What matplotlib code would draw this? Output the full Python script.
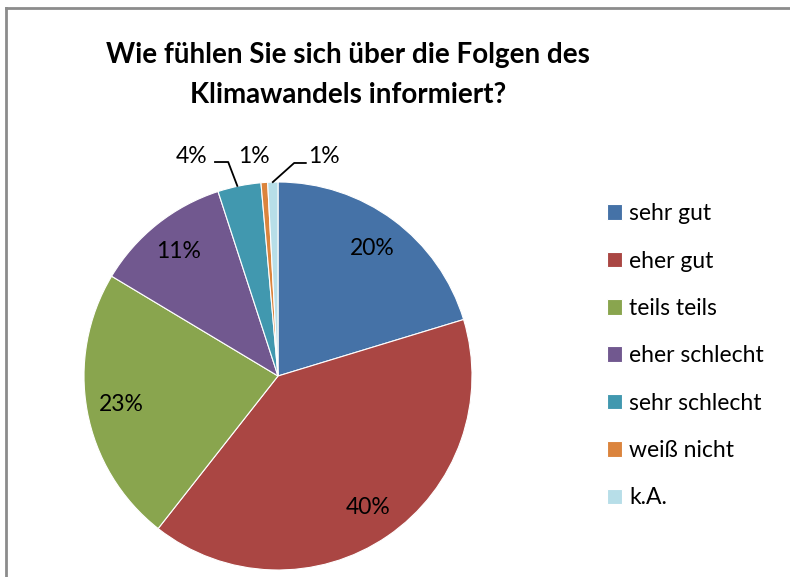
import numpy as np
import matplotlib
matplotlib.use("Agg")
import matplotlib.pyplot as plt
from matplotlib.lines import Line2D

# Data
categories = ["sehr gut", "eher gut", "teils teils", "eher schlecht",
              "sehr schlecht", "weiß nicht", "k.A."]
shares = [20.3, 40.3, 23.0, 11.4, 3.6, 0.55, 0.85]
pct_labels = ["20%", "40%", "23%", "11%", "4%", "1%", "1%"]
colors = ["#4572A7", "#AA4643", "#89A54E", "#71588F", "#4198AF", "#DB843D", "#B7DEE8"]

title = "Wie fühlen Sie sich über die Folgen des\nKlimawandels informiert?"

plt.rcParams['font.family'] = ['Lato', 'DejaVu Sans']

W, H = 790, 577
fig = plt.figure(figsize=(W / 100, H / 100), dpi=100)

# pie axes: centre (278, 376) px, radius 194 px
cx, cy, r = 278, 376, 194
k = 1.3
ax = fig.add_axes([(cx - r * k) / W, (H - cy - r * k) / H, 2 * r * k / W, 2 * r * k / H])

wedges, _ = ax.pie(shares, colors=colors, startangle=90, counterclock=False,
                   wedgeprops=dict(edgecolor="white", linewidth=0.8))
ax.set_xlim(-k, k)
ax.set_ylim(-k, k)
ax.set_aspect("equal")
ax.axis("off")

fs = 16.5

# labels inside the big slices
for w, lab in zip(wedges[:4], pct_labels[:4]):
    ang = np.deg2rad((w.theta1 + w.theta2) / 2)
    ax.text(0.82 * np.cos(ang), 0.82 * np.sin(ang), lab, ha="center", va="center",
            fontsize=fs, color="black")

# small slices: labels above with leader lines
def edge(w, rr=1.0):
    ang = np.deg2rad((w.theta1 + w.theta2) / 2)
    return rr * np.cos(ang), rr * np.sin(ang)

ly = 1.13
# sehr schlecht
x0, y0 = edge(wedges[4])
ax.plot([x0 - 0.01, x0 - 0.057, x0 - 0.125], [y0, 1.103, 1.103], color="black", lw=1.3,
        clip_on=False)
ax.text(x0 - 0.245, ly, pct_labels[4], ha="center", va="center", fontsize=fs)
# weiß nicht
x0, y0 = edge(wedges[5])
ax.text(x0 - 0.055, ly, pct_labels[5], ha="center", va="center", fontsize=fs)
# k.A.
x0, y0 = edge(wedges[6])
ax.plot([x0, x0 + 0.11, x0 + 0.17], [y0, 1.098, 1.098], color="black", lw=1.3, clip_on=False)
ax.text(x0 + 0.265, ly, pct_labels[6], ha="center", va="center", fontsize=fs)

fig.text(348 / W, 1 - 75 / H, title, ha="center", va="center", fontsize=20,
         fontweight="bold", linespacing=1.65)

fig.legend(wedges, categories, loc="upper left", bbox_to_anchor=(598 / W, 1 - 194 / H),
           frameon=False, fontsize=fs, handlelength=0.66, handleheight=0.66,
           handletextpad=0.3, labelspacing=1.15, borderaxespad=0)

# chart border (left and top only visible)
fig.add_artist(Line2D([6 / W, 6 / W], [0, 1 - 8 / H], color="#8c8c8c", lw=2))
fig.add_artist(Line2D([6 / W, 1], [1 - 8 / H, 1 - 8 / H], color="#8c8c8c", lw=2))

fig.savefig("out.png", dpi=100)
